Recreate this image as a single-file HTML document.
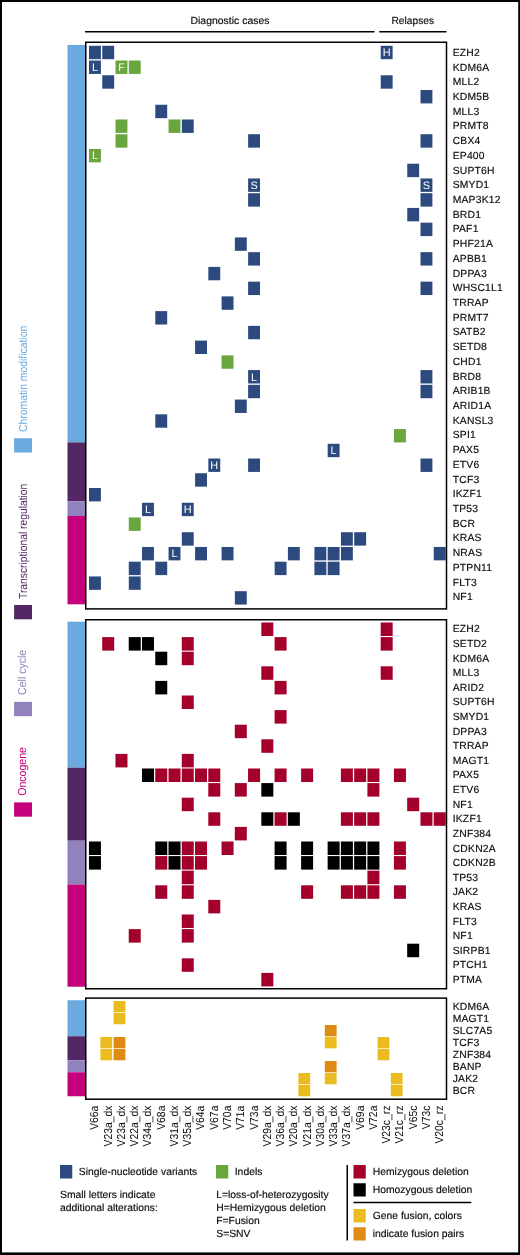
<!DOCTYPE html>
<html><head><meta charset="utf-8"><title>Mutation landscape</title>
<style>
html,body{margin:0;padding:0;background:#fff;}
svg{display:block;will-change:transform;text-rendering:geometricPrecision;font-family:"Liberation Sans",Arial,Helvetica,sans-serif;}
</style></head>
<body>
<svg width="520" height="1255" viewBox="0 0 520 1255" font-size="10.35" stroke-width="0.15">
<rect x="0" y="0" width="520" height="1255" fill="#fff"/>
<rect x="67.50" y="44.94" width="18.00" height="397.44" fill="#6aaade"/>
<rect x="67.50" y="442.38" width="18.00" height="58.88" fill="#532664"/>
<rect x="67.50" y="501.26" width="18.00" height="14.72" fill="#9181bc"/>
<rect x="67.50" y="515.98" width="18.00" height="88.32" fill="#c4007a"/>
<rect x="67.50" y="621.70" width="18.00" height="146.00" fill="#6aaade"/>
<rect x="67.50" y="767.70" width="18.00" height="73.00" fill="#532664"/>
<rect x="67.50" y="840.70" width="18.00" height="43.80" fill="#9181bc"/>
<rect x="67.50" y="884.50" width="18.00" height="102.20" fill="#c4007a"/>
<rect x="67.50" y="1000.25" width="18.00" height="36.00" fill="#6aaade"/>
<rect x="67.50" y="1036.25" width="18.00" height="24.00" fill="#532664"/>
<rect x="67.50" y="1060.25" width="18.00" height="12.00" fill="#9181bc"/>
<rect x="67.50" y="1072.25" width="18.00" height="24.00" fill="#c4007a"/>
<rect x="89.00" y="45.80" width="11.90" height="13.40" fill="#2c4a7e"/>
<rect x="102.26" y="45.80" width="11.90" height="13.40" fill="#2c4a7e"/>
<rect x="380.72" y="45.80" width="11.90" height="13.40" fill="#2c4a7e"/>
<text x="386.67" y="56.25" fill="#fff" stroke="none" text-anchor="middle" font-size="10.9">H</text>
<rect x="89.00" y="60.54" width="11.90" height="13.40" fill="#2c4a7e"/>
<text x="94.95" y="70.99" fill="#fff" stroke="none" text-anchor="middle" font-size="10.9">L</text>
<rect x="115.52" y="60.54" width="11.90" height="13.40" fill="#69a63e"/>
<text x="121.47" y="70.99" fill="#fff" stroke="none" text-anchor="middle" font-size="10.9">F</text>
<rect x="128.78" y="60.54" width="11.90" height="13.40" fill="#69a63e"/>
<rect x="102.26" y="75.28" width="11.90" height="13.40" fill="#2c4a7e"/>
<rect x="380.72" y="75.28" width="11.90" height="13.40" fill="#2c4a7e"/>
<rect x="420.50" y="90.02" width="11.90" height="13.40" fill="#2c4a7e"/>
<rect x="155.30" y="104.76" width="11.90" height="13.40" fill="#2c4a7e"/>
<rect x="115.52" y="119.50" width="11.90" height="13.40" fill="#69a63e"/>
<rect x="168.56" y="119.50" width="11.90" height="13.40" fill="#69a63e"/>
<rect x="181.82" y="119.50" width="11.90" height="13.40" fill="#2c4a7e"/>
<rect x="115.52" y="134.24" width="11.90" height="13.40" fill="#69a63e"/>
<rect x="248.12" y="134.24" width="11.90" height="13.40" fill="#2c4a7e"/>
<rect x="420.50" y="134.24" width="11.90" height="13.40" fill="#2c4a7e"/>
<rect x="89.00" y="148.98" width="11.90" height="13.40" fill="#69a63e"/>
<text x="94.95" y="159.43" fill="#fff" stroke="none" text-anchor="middle" font-size="10.9">L</text>
<rect x="407.24" y="163.72" width="11.90" height="13.40" fill="#2c4a7e"/>
<rect x="248.12" y="178.46" width="11.90" height="13.40" fill="#2c4a7e"/>
<text x="254.07" y="188.91" fill="#fff" stroke="none" text-anchor="middle" font-size="10.9">S</text>
<rect x="420.50" y="178.46" width="11.90" height="13.40" fill="#2c4a7e"/>
<text x="426.45" y="188.91" fill="#fff" stroke="none" text-anchor="middle" font-size="10.9">S</text>
<rect x="248.12" y="193.20" width="11.90" height="13.40" fill="#2c4a7e"/>
<rect x="420.50" y="193.20" width="11.90" height="13.40" fill="#2c4a7e"/>
<rect x="407.24" y="207.94" width="11.90" height="13.40" fill="#2c4a7e"/>
<rect x="420.50" y="222.68" width="11.90" height="13.40" fill="#2c4a7e"/>
<rect x="234.86" y="237.42" width="11.90" height="13.40" fill="#2c4a7e"/>
<rect x="248.12" y="252.16" width="11.90" height="13.40" fill="#2c4a7e"/>
<rect x="420.50" y="252.16" width="11.90" height="13.40" fill="#2c4a7e"/>
<rect x="208.34" y="266.90" width="11.90" height="13.40" fill="#2c4a7e"/>
<rect x="248.12" y="281.64" width="11.90" height="13.40" fill="#2c4a7e"/>
<rect x="420.50" y="281.64" width="11.90" height="13.40" fill="#2c4a7e"/>
<rect x="221.60" y="296.38" width="11.90" height="13.40" fill="#2c4a7e"/>
<rect x="155.30" y="311.12" width="11.90" height="13.40" fill="#2c4a7e"/>
<rect x="248.12" y="325.86" width="11.90" height="13.40" fill="#2c4a7e"/>
<rect x="195.08" y="340.60" width="11.90" height="13.40" fill="#2c4a7e"/>
<rect x="221.60" y="355.34" width="11.90" height="13.40" fill="#69a63e"/>
<rect x="248.12" y="370.08" width="11.90" height="13.40" fill="#2c4a7e"/>
<text x="254.07" y="380.53" fill="#fff" stroke="none" text-anchor="middle" font-size="10.9">L</text>
<rect x="420.50" y="370.08" width="11.90" height="13.40" fill="#2c4a7e"/>
<rect x="248.12" y="384.82" width="11.90" height="13.40" fill="#2c4a7e"/>
<rect x="420.50" y="384.82" width="11.90" height="13.40" fill="#2c4a7e"/>
<rect x="234.86" y="399.56" width="11.90" height="13.40" fill="#2c4a7e"/>
<rect x="155.30" y="414.30" width="11.90" height="13.40" fill="#2c4a7e"/>
<rect x="393.98" y="429.04" width="11.90" height="13.40" fill="#69a63e"/>
<rect x="327.68" y="443.78" width="11.90" height="13.40" fill="#2c4a7e"/>
<text x="333.63" y="454.23" fill="#fff" stroke="none" text-anchor="middle" font-size="10.9">L</text>
<rect x="208.34" y="458.52" width="11.90" height="13.40" fill="#2c4a7e"/>
<text x="214.29" y="468.97" fill="#fff" stroke="none" text-anchor="middle" font-size="10.9">H</text>
<rect x="248.12" y="458.52" width="11.90" height="13.40" fill="#2c4a7e"/>
<rect x="420.50" y="458.52" width="11.90" height="13.40" fill="#2c4a7e"/>
<rect x="195.08" y="473.26" width="11.90" height="13.40" fill="#2c4a7e"/>
<rect x="89.00" y="488.00" width="11.90" height="13.40" fill="#2c4a7e"/>
<rect x="142.04" y="502.74" width="11.90" height="13.40" fill="#2c4a7e"/>
<text x="147.99" y="513.19" fill="#fff" stroke="none" text-anchor="middle" font-size="10.9">L</text>
<rect x="181.82" y="502.74" width="11.90" height="13.40" fill="#2c4a7e"/>
<text x="187.77" y="513.19" fill="#fff" stroke="none" text-anchor="middle" font-size="10.9">H</text>
<rect x="128.78" y="517.48" width="11.90" height="13.40" fill="#69a63e"/>
<rect x="181.82" y="532.22" width="11.90" height="13.40" fill="#2c4a7e"/>
<rect x="340.94" y="532.22" width="11.90" height="13.40" fill="#2c4a7e"/>
<rect x="354.20" y="532.22" width="11.90" height="13.40" fill="#2c4a7e"/>
<rect x="142.04" y="546.96" width="11.90" height="13.40" fill="#2c4a7e"/>
<rect x="168.56" y="546.96" width="11.90" height="13.40" fill="#2c4a7e"/>
<text x="174.51" y="557.41" fill="#fff" stroke="none" text-anchor="middle" font-size="10.9">L</text>
<rect x="195.08" y="546.96" width="11.90" height="13.40" fill="#2c4a7e"/>
<rect x="221.60" y="546.96" width="11.90" height="13.40" fill="#2c4a7e"/>
<rect x="287.90" y="546.96" width="11.90" height="13.40" fill="#2c4a7e"/>
<rect x="314.42" y="546.96" width="11.90" height="13.40" fill="#2c4a7e"/>
<rect x="327.68" y="546.96" width="11.90" height="13.40" fill="#2c4a7e"/>
<rect x="340.94" y="546.96" width="11.90" height="13.40" fill="#2c4a7e"/>
<rect x="433.76" y="546.96" width="11.90" height="13.40" fill="#2c4a7e"/>
<rect x="128.78" y="561.70" width="11.90" height="13.40" fill="#2c4a7e"/>
<rect x="155.30" y="561.70" width="11.90" height="13.40" fill="#2c4a7e"/>
<rect x="274.64" y="561.70" width="11.90" height="13.40" fill="#2c4a7e"/>
<rect x="314.42" y="561.70" width="11.90" height="13.40" fill="#2c4a7e"/>
<rect x="327.68" y="561.70" width="11.90" height="13.40" fill="#2c4a7e"/>
<rect x="89.00" y="576.44" width="11.90" height="13.40" fill="#2c4a7e"/>
<rect x="128.78" y="576.44" width="11.90" height="13.40" fill="#2c4a7e"/>
<rect x="234.86" y="591.18" width="11.90" height="13.40" fill="#2c4a7e"/>
<text x="452.70" y="55.87" fill="#0a0a0a" stroke="#0a0a0a" text-anchor="start" letter-spacing="0.2">EZH2</text>
<text x="452.70" y="70.59" fill="#0a0a0a" stroke="#0a0a0a" text-anchor="start" letter-spacing="0.2">KDM6A</text>
<text x="452.70" y="85.30" fill="#0a0a0a" stroke="#0a0a0a" text-anchor="start" letter-spacing="0.2">MLL2</text>
<text x="452.70" y="100.02" fill="#0a0a0a" stroke="#0a0a0a" text-anchor="start" letter-spacing="0.2">KDM5B</text>
<text x="452.70" y="114.73" fill="#0a0a0a" stroke="#0a0a0a" text-anchor="start" letter-spacing="0.2">MLL3</text>
<text x="452.70" y="129.45" fill="#0a0a0a" stroke="#0a0a0a" text-anchor="start" letter-spacing="0.2">PRMT8</text>
<text x="452.70" y="144.16" fill="#0a0a0a" stroke="#0a0a0a" text-anchor="start" letter-spacing="0.2">CBX4</text>
<text x="452.70" y="158.88" fill="#0a0a0a" stroke="#0a0a0a" text-anchor="start" letter-spacing="0.2">EP400</text>
<text x="452.70" y="173.59" fill="#0a0a0a" stroke="#0a0a0a" text-anchor="start" letter-spacing="0.2">SUPT6H</text>
<text x="452.70" y="188.31" fill="#0a0a0a" stroke="#0a0a0a" text-anchor="start" letter-spacing="0.2">SMYD1</text>
<text x="452.70" y="203.03" fill="#0a0a0a" stroke="#0a0a0a" text-anchor="start" letter-spacing="0.2">MAP3K12</text>
<text x="452.70" y="217.74" fill="#0a0a0a" stroke="#0a0a0a" text-anchor="start" letter-spacing="0.2">BRD1</text>
<text x="452.70" y="232.46" fill="#0a0a0a" stroke="#0a0a0a" text-anchor="start" letter-spacing="0.2">PAF1</text>
<text x="452.70" y="247.17" fill="#0a0a0a" stroke="#0a0a0a" text-anchor="start" letter-spacing="0.2">PHF21A</text>
<text x="452.70" y="261.89" fill="#0a0a0a" stroke="#0a0a0a" text-anchor="start" letter-spacing="0.2">APBB1</text>
<text x="452.70" y="276.60" fill="#0a0a0a" stroke="#0a0a0a" text-anchor="start" letter-spacing="0.2">DPPA3</text>
<text x="452.70" y="291.32" fill="#0a0a0a" stroke="#0a0a0a" text-anchor="start" letter-spacing="0.2">WHSC1L1</text>
<text x="452.70" y="306.03" fill="#0a0a0a" stroke="#0a0a0a" text-anchor="start" letter-spacing="0.2">TRRAP</text>
<text x="452.70" y="320.75" fill="#0a0a0a" stroke="#0a0a0a" text-anchor="start" letter-spacing="0.2">PRMT7</text>
<text x="452.70" y="335.46" fill="#0a0a0a" stroke="#0a0a0a" text-anchor="start" letter-spacing="0.2">SATB2</text>
<text x="452.70" y="350.18" fill="#0a0a0a" stroke="#0a0a0a" text-anchor="start" letter-spacing="0.2">SETD8</text>
<text x="452.70" y="364.90" fill="#0a0a0a" stroke="#0a0a0a" text-anchor="start" letter-spacing="0.2">CHD1</text>
<text x="452.70" y="379.61" fill="#0a0a0a" stroke="#0a0a0a" text-anchor="start" letter-spacing="0.2">BRD8</text>
<text x="452.70" y="394.33" fill="#0a0a0a" stroke="#0a0a0a" text-anchor="start" letter-spacing="0.2">ARIB1B</text>
<text x="452.70" y="409.04" fill="#0a0a0a" stroke="#0a0a0a" text-anchor="start" letter-spacing="0.2">ARID1A</text>
<text x="452.70" y="423.76" fill="#0a0a0a" stroke="#0a0a0a" text-anchor="start" letter-spacing="0.2">KANSL3</text>
<text x="452.70" y="438.47" fill="#0a0a0a" stroke="#0a0a0a" text-anchor="start" letter-spacing="0.2">SPI1</text>
<text x="452.70" y="453.19" fill="#0a0a0a" stroke="#0a0a0a" text-anchor="start" letter-spacing="0.2">PAX5</text>
<text x="452.70" y="467.90" fill="#0a0a0a" stroke="#0a0a0a" text-anchor="start" letter-spacing="0.2">ETV6</text>
<text x="452.70" y="482.62" fill="#0a0a0a" stroke="#0a0a0a" text-anchor="start" letter-spacing="0.2">TCF3</text>
<text x="452.70" y="497.34" fill="#0a0a0a" stroke="#0a0a0a" text-anchor="start" letter-spacing="0.2">IKZF1</text>
<text x="452.70" y="512.05" fill="#0a0a0a" stroke="#0a0a0a" text-anchor="start" letter-spacing="0.2">TP53</text>
<text x="452.70" y="526.77" fill="#0a0a0a" stroke="#0a0a0a" text-anchor="start" letter-spacing="0.2">BCR</text>
<text x="452.70" y="541.48" fill="#0a0a0a" stroke="#0a0a0a" text-anchor="start" letter-spacing="0.2">KRAS</text>
<text x="452.70" y="556.20" fill="#0a0a0a" stroke="#0a0a0a" text-anchor="start" letter-spacing="0.2">NRAS</text>
<text x="452.70" y="570.91" fill="#0a0a0a" stroke="#0a0a0a" text-anchor="start" letter-spacing="0.2">PTPN11</text>
<text x="452.70" y="585.63" fill="#0a0a0a" stroke="#0a0a0a" text-anchor="start" letter-spacing="0.2">FLT3</text>
<text x="452.70" y="600.34" fill="#0a0a0a" stroke="#0a0a0a" text-anchor="start" letter-spacing="0.2">NF1</text>
<rect x="261.33" y="622.50" width="12.00" height="13.50" fill="#a3002c"/>
<rect x="380.67" y="622.50" width="12.00" height="13.50" fill="#a3002c"/>
<rect x="102.21" y="637.10" width="12.00" height="13.50" fill="#a3002c"/>
<rect x="128.73" y="637.10" width="12.00" height="13.50" fill="#000000"/>
<rect x="141.99" y="637.10" width="12.00" height="13.50" fill="#000000"/>
<rect x="181.77" y="637.10" width="12.00" height="13.50" fill="#a3002c"/>
<rect x="274.59" y="637.10" width="12.00" height="13.50" fill="#a3002c"/>
<rect x="380.67" y="637.10" width="12.00" height="13.50" fill="#a3002c"/>
<rect x="155.25" y="651.70" width="12.00" height="13.50" fill="#000000"/>
<rect x="181.77" y="651.70" width="12.00" height="13.50" fill="#a3002c"/>
<rect x="261.33" y="666.30" width="12.00" height="13.50" fill="#a3002c"/>
<rect x="380.67" y="666.30" width="12.00" height="13.50" fill="#a3002c"/>
<rect x="155.25" y="680.90" width="12.00" height="13.50" fill="#000000"/>
<rect x="274.59" y="680.90" width="12.00" height="13.50" fill="#a3002c"/>
<rect x="181.77" y="695.50" width="12.00" height="13.50" fill="#a3002c"/>
<rect x="274.59" y="710.10" width="12.00" height="13.50" fill="#a3002c"/>
<rect x="234.81" y="724.70" width="12.00" height="13.50" fill="#a3002c"/>
<rect x="261.33" y="739.30" width="12.00" height="13.50" fill="#a3002c"/>
<rect x="115.47" y="753.90" width="12.00" height="13.50" fill="#a3002c"/>
<rect x="181.77" y="753.90" width="12.00" height="13.50" fill="#a3002c"/>
<rect x="141.99" y="768.50" width="12.00" height="13.50" fill="#000000"/>
<rect x="155.25" y="768.50" width="12.00" height="13.50" fill="#a3002c"/>
<rect x="168.51" y="768.50" width="12.00" height="13.50" fill="#a3002c"/>
<rect x="181.77" y="768.50" width="12.00" height="13.50" fill="#a3002c"/>
<rect x="195.03" y="768.50" width="12.00" height="13.50" fill="#a3002c"/>
<rect x="208.29" y="768.50" width="12.00" height="13.50" fill="#a3002c"/>
<rect x="248.07" y="768.50" width="12.00" height="13.50" fill="#a3002c"/>
<rect x="274.59" y="768.50" width="12.00" height="13.50" fill="#a3002c"/>
<rect x="301.11" y="768.50" width="12.00" height="13.50" fill="#a3002c"/>
<rect x="340.89" y="768.50" width="12.00" height="13.50" fill="#a3002c"/>
<rect x="354.15" y="768.50" width="12.00" height="13.50" fill="#a3002c"/>
<rect x="367.41" y="768.50" width="12.00" height="13.50" fill="#a3002c"/>
<rect x="393.93" y="768.50" width="12.00" height="13.50" fill="#a3002c"/>
<rect x="208.29" y="783.10" width="12.00" height="13.50" fill="#a3002c"/>
<rect x="234.81" y="783.10" width="12.00" height="13.50" fill="#a3002c"/>
<rect x="261.33" y="783.10" width="12.00" height="13.50" fill="#000000"/>
<rect x="367.41" y="783.10" width="12.00" height="13.50" fill="#a3002c"/>
<rect x="181.77" y="797.70" width="12.00" height="13.50" fill="#a3002c"/>
<rect x="407.19" y="797.70" width="12.00" height="13.50" fill="#a3002c"/>
<rect x="208.29" y="812.30" width="12.00" height="13.50" fill="#a3002c"/>
<rect x="261.33" y="812.30" width="12.00" height="13.50" fill="#000000"/>
<rect x="274.59" y="812.30" width="12.00" height="13.50" fill="#a3002c"/>
<rect x="287.85" y="812.30" width="12.00" height="13.50" fill="#000000"/>
<rect x="340.89" y="812.30" width="12.00" height="13.50" fill="#a3002c"/>
<rect x="354.15" y="812.30" width="12.00" height="13.50" fill="#a3002c"/>
<rect x="367.41" y="812.30" width="12.00" height="13.50" fill="#a3002c"/>
<rect x="420.45" y="812.30" width="12.00" height="13.50" fill="#a3002c"/>
<rect x="433.71" y="812.30" width="12.00" height="13.50" fill="#a3002c"/>
<rect x="234.81" y="826.90" width="12.00" height="13.50" fill="#a3002c"/>
<rect x="88.95" y="841.50" width="12.00" height="13.50" fill="#000000"/>
<rect x="155.25" y="841.50" width="12.00" height="13.50" fill="#000000"/>
<rect x="168.51" y="841.50" width="12.00" height="13.50" fill="#000000"/>
<rect x="181.77" y="841.50" width="12.00" height="13.50" fill="#a3002c"/>
<rect x="195.03" y="841.50" width="12.00" height="13.50" fill="#a3002c"/>
<rect x="221.55" y="841.50" width="12.00" height="13.50" fill="#a3002c"/>
<rect x="274.59" y="841.50" width="12.00" height="13.50" fill="#000000"/>
<rect x="301.11" y="841.50" width="12.00" height="13.50" fill="#000000"/>
<rect x="327.63" y="841.50" width="12.00" height="13.50" fill="#000000"/>
<rect x="340.89" y="841.50" width="12.00" height="13.50" fill="#000000"/>
<rect x="354.15" y="841.50" width="12.00" height="13.50" fill="#000000"/>
<rect x="367.41" y="841.50" width="12.00" height="13.50" fill="#000000"/>
<rect x="393.93" y="841.50" width="12.00" height="13.50" fill="#a3002c"/>
<rect x="88.95" y="856.10" width="12.00" height="13.50" fill="#000000"/>
<rect x="155.25" y="856.10" width="12.00" height="13.50" fill="#a3002c"/>
<rect x="168.51" y="856.10" width="12.00" height="13.50" fill="#000000"/>
<rect x="181.77" y="856.10" width="12.00" height="13.50" fill="#a3002c"/>
<rect x="195.03" y="856.10" width="12.00" height="13.50" fill="#a3002c"/>
<rect x="274.59" y="856.10" width="12.00" height="13.50" fill="#000000"/>
<rect x="301.11" y="856.10" width="12.00" height="13.50" fill="#000000"/>
<rect x="327.63" y="856.10" width="12.00" height="13.50" fill="#000000"/>
<rect x="340.89" y="856.10" width="12.00" height="13.50" fill="#000000"/>
<rect x="354.15" y="856.10" width="12.00" height="13.50" fill="#000000"/>
<rect x="367.41" y="856.10" width="12.00" height="13.50" fill="#000000"/>
<rect x="393.93" y="856.10" width="12.00" height="13.50" fill="#a3002c"/>
<rect x="181.77" y="870.70" width="12.00" height="13.50" fill="#a3002c"/>
<rect x="367.41" y="870.70" width="12.00" height="13.50" fill="#a3002c"/>
<rect x="155.25" y="885.30" width="12.00" height="13.50" fill="#a3002c"/>
<rect x="181.77" y="885.30" width="12.00" height="13.50" fill="#a3002c"/>
<rect x="301.11" y="885.30" width="12.00" height="13.50" fill="#a3002c"/>
<rect x="340.89" y="885.30" width="12.00" height="13.50" fill="#a3002c"/>
<rect x="354.15" y="885.30" width="12.00" height="13.50" fill="#a3002c"/>
<rect x="367.41" y="885.30" width="12.00" height="13.50" fill="#a3002c"/>
<rect x="393.93" y="885.30" width="12.00" height="13.50" fill="#a3002c"/>
<rect x="208.29" y="899.90" width="12.00" height="13.50" fill="#a3002c"/>
<rect x="181.77" y="914.50" width="12.00" height="13.50" fill="#a3002c"/>
<rect x="128.73" y="929.10" width="12.00" height="13.50" fill="#a3002c"/>
<rect x="181.77" y="929.10" width="12.00" height="13.50" fill="#a3002c"/>
<rect x="407.19" y="943.70" width="12.00" height="13.50" fill="#000000"/>
<rect x="181.77" y="958.30" width="12.00" height="13.50" fill="#a3002c"/>
<rect x="261.33" y="972.90" width="12.00" height="13.50" fill="#a3002c"/>
<text x="452.70" y="632.30" fill="#0a0a0a" stroke="#0a0a0a" text-anchor="start" letter-spacing="0.2">EZH2</text>
<text x="452.70" y="646.91" fill="#0a0a0a" stroke="#0a0a0a" text-anchor="start" letter-spacing="0.2">SETD2</text>
<text x="452.70" y="661.53" fill="#0a0a0a" stroke="#0a0a0a" text-anchor="start" letter-spacing="0.2">KDM6A</text>
<text x="452.70" y="676.14" fill="#0a0a0a" stroke="#0a0a0a" text-anchor="start" letter-spacing="0.2">MLL3</text>
<text x="452.70" y="690.76" fill="#0a0a0a" stroke="#0a0a0a" text-anchor="start" letter-spacing="0.2">ARID2</text>
<text x="452.70" y="705.38" fill="#0a0a0a" stroke="#0a0a0a" text-anchor="start" letter-spacing="0.2">SUPT6H</text>
<text x="452.70" y="719.99" fill="#0a0a0a" stroke="#0a0a0a" text-anchor="start" letter-spacing="0.2">SMYD1</text>
<text x="452.70" y="734.61" fill="#0a0a0a" stroke="#0a0a0a" text-anchor="start" letter-spacing="0.2">DPPA3</text>
<text x="452.70" y="749.22" fill="#0a0a0a" stroke="#0a0a0a" text-anchor="start" letter-spacing="0.2">TRRAP</text>
<text x="452.70" y="763.83" fill="#0a0a0a" stroke="#0a0a0a" text-anchor="start" letter-spacing="0.2">MAGT1</text>
<text x="452.70" y="778.45" fill="#0a0a0a" stroke="#0a0a0a" text-anchor="start" letter-spacing="0.2">PAX5</text>
<text x="452.70" y="793.06" fill="#0a0a0a" stroke="#0a0a0a" text-anchor="start" letter-spacing="0.2">ETV6</text>
<text x="452.70" y="807.68" fill="#0a0a0a" stroke="#0a0a0a" text-anchor="start" letter-spacing="0.2">NF1</text>
<text x="452.70" y="822.29" fill="#0a0a0a" stroke="#0a0a0a" text-anchor="start" letter-spacing="0.2">IKZF1</text>
<text x="452.70" y="836.91" fill="#0a0a0a" stroke="#0a0a0a" text-anchor="start" letter-spacing="0.2">ZNF384</text>
<text x="452.70" y="851.52" fill="#0a0a0a" stroke="#0a0a0a" text-anchor="start" letter-spacing="0.2">CDKN2A</text>
<text x="452.70" y="866.14" fill="#0a0a0a" stroke="#0a0a0a" text-anchor="start" letter-spacing="0.2">CDKN2B</text>
<text x="452.70" y="880.75" fill="#0a0a0a" stroke="#0a0a0a" text-anchor="start" letter-spacing="0.2">TP53</text>
<text x="452.70" y="895.37" fill="#0a0a0a" stroke="#0a0a0a" text-anchor="start" letter-spacing="0.2">JAK2</text>
<text x="452.70" y="909.98" fill="#0a0a0a" stroke="#0a0a0a" text-anchor="start" letter-spacing="0.2">KRAS</text>
<text x="452.70" y="924.60" fill="#0a0a0a" stroke="#0a0a0a" text-anchor="start" letter-spacing="0.2">FLT3</text>
<text x="452.70" y="939.21" fill="#0a0a0a" stroke="#0a0a0a" text-anchor="start" letter-spacing="0.2">NF1</text>
<text x="452.70" y="953.83" fill="#0a0a0a" stroke="#0a0a0a" text-anchor="start" letter-spacing="0.2">SIRPB1</text>
<text x="452.70" y="968.44" fill="#0a0a0a" stroke="#0a0a0a" text-anchor="start" letter-spacing="0.2">PTCH1</text>
<text x="452.70" y="983.06" fill="#0a0a0a" stroke="#0a0a0a" text-anchor="start" letter-spacing="0.2">PTMA</text>
<rect x="113.60" y="1001.00" width="11.80" height="11.30" fill="#ebbc20"/>
<rect x="113.60" y="1013.00" width="11.80" height="11.30" fill="#ebbc20"/>
<rect x="324.80" y="1025.00" width="11.80" height="11.30" fill="#de8b14"/>
<rect x="100.40" y="1037.00" width="11.80" height="11.30" fill="#ebbc20"/>
<rect x="113.60" y="1037.00" width="11.80" height="11.30" fill="#de8b14"/>
<rect x="324.80" y="1037.00" width="11.80" height="11.30" fill="#ebbc20"/>
<rect x="377.60" y="1037.00" width="11.80" height="11.30" fill="#ebbc20"/>
<rect x="100.40" y="1049.00" width="11.80" height="11.30" fill="#ebbc20"/>
<rect x="113.60" y="1049.00" width="11.80" height="11.30" fill="#de8b14"/>
<rect x="377.60" y="1049.00" width="11.80" height="11.30" fill="#ebbc20"/>
<rect x="324.80" y="1061.00" width="11.80" height="11.30" fill="#de8b14"/>
<rect x="298.40" y="1073.00" width="11.80" height="11.30" fill="#ebbc20"/>
<rect x="324.80" y="1073.00" width="11.80" height="11.30" fill="#ebbc20"/>
<rect x="390.80" y="1073.00" width="11.80" height="11.30" fill="#ebbc20"/>
<rect x="298.40" y="1085.00" width="11.80" height="11.30" fill="#ebbc20"/>
<rect x="390.80" y="1085.00" width="11.80" height="11.30" fill="#ebbc20"/>
<text x="452.70" y="1009.75" fill="#0a0a0a" stroke="#0a0a0a" text-anchor="start" letter-spacing="0.2">KDM6A</text>
<text x="452.70" y="1021.77" fill="#0a0a0a" stroke="#0a0a0a" text-anchor="start" letter-spacing="0.2">MAGT1</text>
<text x="452.70" y="1033.79" fill="#0a0a0a" stroke="#0a0a0a" text-anchor="start" letter-spacing="0.2">SLC7A5</text>
<text x="452.70" y="1045.81" fill="#0a0a0a" stroke="#0a0a0a" text-anchor="start" letter-spacing="0.2">TCF3</text>
<text x="452.70" y="1057.83" fill="#0a0a0a" stroke="#0a0a0a" text-anchor="start" letter-spacing="0.2">ZNF384</text>
<text x="452.70" y="1069.85" fill="#0a0a0a" stroke="#0a0a0a" text-anchor="start" letter-spacing="0.2">BANP</text>
<text x="452.70" y="1081.87" fill="#0a0a0a" stroke="#0a0a0a" text-anchor="start" letter-spacing="0.2">JAK2</text>
<text x="452.70" y="1093.89" fill="#0a0a0a" stroke="#0a0a0a" text-anchor="start" letter-spacing="0.2">BCR</text>
<rect x="85.75" y="42.25" width="360.75" height="566.65" fill="none" stroke="#000" stroke-width="1.5"/>
<rect x="85.75" y="619.75" width="360.75" height="369.00" fill="none" stroke="#000" stroke-width="1.5"/>
<rect x="85.75" y="998.1" width="360.75" height="101.10" fill="none" stroke="#000" stroke-width="1.5"/>
<text x="190.50" y="23.75" fill="#0a0a0a" stroke="#0a0a0a" text-anchor="start" textLength="79" lengthAdjust="spacingAndGlyphs">Diagnostic cases</text>
<text x="391.50" y="23.75" fill="#0a0a0a" stroke="#0a0a0a" text-anchor="start" textLength="42.5" lengthAdjust="spacingAndGlyphs">Relapses</text>
<rect x="85.00" y="31.00" width="289.50" height="1.50" fill="#000"/>
<rect x="379.25" y="31.00" width="67.25" height="1.50" fill="#000"/>
<text x="98.40" y="1105.6" fill="#0a0a0a" font-size="11.6" text-anchor="end" textLength="24.2" lengthAdjust="spacingAndGlyphs" transform="rotate(-90 98.40 1105.6)">V66a</text>
<text x="111.66" y="1105.6" fill="#0a0a0a" font-size="11.6" text-anchor="end" textLength="40.9" lengthAdjust="spacingAndGlyphs" transform="rotate(-90 111.66 1105.6)">V23a_dx</text>
<text x="124.92" y="1105.6" fill="#0a0a0a" font-size="11.6" text-anchor="end" textLength="40.9" lengthAdjust="spacingAndGlyphs" transform="rotate(-90 124.92 1105.6)">V23a_dx</text>
<text x="138.18" y="1105.6" fill="#0a0a0a" font-size="11.6" text-anchor="end" textLength="40.9" lengthAdjust="spacingAndGlyphs" transform="rotate(-90 138.18 1105.6)">V22a_dx</text>
<text x="151.44" y="1105.6" fill="#0a0a0a" font-size="11.6" text-anchor="end" textLength="40.9" lengthAdjust="spacingAndGlyphs" transform="rotate(-90 151.44 1105.6)">V34a_dx</text>
<text x="164.70" y="1105.6" fill="#0a0a0a" font-size="11.6" text-anchor="end" textLength="24.2" lengthAdjust="spacingAndGlyphs" transform="rotate(-90 164.70 1105.6)">V68a</text>
<text x="177.96" y="1105.6" fill="#0a0a0a" font-size="11.6" text-anchor="end" textLength="40.9" lengthAdjust="spacingAndGlyphs" transform="rotate(-90 177.96 1105.6)">V31a_dx</text>
<text x="191.22" y="1105.6" fill="#0a0a0a" font-size="11.6" text-anchor="end" textLength="40.9" lengthAdjust="spacingAndGlyphs" transform="rotate(-90 191.22 1105.6)">V35a_dx</text>
<text x="204.48" y="1105.6" fill="#0a0a0a" font-size="11.6" text-anchor="end" textLength="24.2" lengthAdjust="spacingAndGlyphs" transform="rotate(-90 204.48 1105.6)">V64a</text>
<text x="217.74" y="1105.6" fill="#0a0a0a" font-size="11.6" text-anchor="end" textLength="24.2" lengthAdjust="spacingAndGlyphs" transform="rotate(-90 217.74 1105.6)">V67a</text>
<text x="231.00" y="1105.6" fill="#0a0a0a" font-size="11.6" text-anchor="end" textLength="24.2" lengthAdjust="spacingAndGlyphs" transform="rotate(-90 231.00 1105.6)">V70a</text>
<text x="244.26" y="1105.6" fill="#0a0a0a" font-size="11.6" text-anchor="end" textLength="24.2" lengthAdjust="spacingAndGlyphs" transform="rotate(-90 244.26 1105.6)">V71a</text>
<text x="257.52" y="1105.6" fill="#0a0a0a" font-size="11.6" text-anchor="end" textLength="24.2" lengthAdjust="spacingAndGlyphs" transform="rotate(-90 257.52 1105.6)">V73a</text>
<text x="270.78" y="1105.6" fill="#0a0a0a" font-size="11.6" text-anchor="end" textLength="40.9" lengthAdjust="spacingAndGlyphs" transform="rotate(-90 270.78 1105.6)">V29a_dx</text>
<text x="284.04" y="1105.6" fill="#0a0a0a" font-size="11.6" text-anchor="end" textLength="40.9" lengthAdjust="spacingAndGlyphs" transform="rotate(-90 284.04 1105.6)">V36a_dx</text>
<text x="297.30" y="1105.6" fill="#0a0a0a" font-size="11.6" text-anchor="end" textLength="40.9" lengthAdjust="spacingAndGlyphs" transform="rotate(-90 297.30 1105.6)">V20a_dx</text>
<text x="310.56" y="1105.6" fill="#0a0a0a" font-size="11.6" text-anchor="end" textLength="40.9" lengthAdjust="spacingAndGlyphs" transform="rotate(-90 310.56 1105.6)">V21a_dx</text>
<text x="323.82" y="1105.6" fill="#0a0a0a" font-size="11.6" text-anchor="end" textLength="40.9" lengthAdjust="spacingAndGlyphs" transform="rotate(-90 323.82 1105.6)">V30a_dx</text>
<text x="337.08" y="1105.6" fill="#0a0a0a" font-size="11.6" text-anchor="end" textLength="40.9" lengthAdjust="spacingAndGlyphs" transform="rotate(-90 337.08 1105.6)">V33a_dx</text>
<text x="350.34" y="1105.6" fill="#0a0a0a" font-size="11.6" text-anchor="end" textLength="40.9" lengthAdjust="spacingAndGlyphs" transform="rotate(-90 350.34 1105.6)">V37a_dx</text>
<text x="363.60" y="1105.6" fill="#0a0a0a" font-size="11.6" text-anchor="end" textLength="24.2" lengthAdjust="spacingAndGlyphs" transform="rotate(-90 363.60 1105.6)">V69a</text>
<text x="376.86" y="1105.6" fill="#0a0a0a" font-size="11.6" text-anchor="end" textLength="24.2" lengthAdjust="spacingAndGlyphs" transform="rotate(-90 376.86 1105.6)">V72a</text>
<text x="390.12" y="1105.6" fill="#0a0a0a" font-size="11.6" text-anchor="end" textLength="38.0" lengthAdjust="spacingAndGlyphs" transform="rotate(-90 390.12 1105.6)">V23c_rz</text>
<text x="403.38" y="1105.6" fill="#0a0a0a" font-size="11.6" text-anchor="end" textLength="38.0" lengthAdjust="spacingAndGlyphs" transform="rotate(-90 403.38 1105.6)">V21c_rz</text>
<text x="416.64" y="1105.6" fill="#0a0a0a" font-size="11.6" text-anchor="end" textLength="23.6" lengthAdjust="spacingAndGlyphs" transform="rotate(-90 416.64 1105.6)">V65c</text>
<text x="429.90" y="1105.6" fill="#0a0a0a" font-size="11.6" text-anchor="end" textLength="23.6" lengthAdjust="spacingAndGlyphs" transform="rotate(-90 429.90 1105.6)">V73c</text>
<text x="443.16" y="1105.6" fill="#0a0a0a" font-size="11.6" text-anchor="end" textLength="38.0" lengthAdjust="spacingAndGlyphs" transform="rotate(-90 443.16 1105.6)">V20c_rz</text>
<text x="26.5" y="432" fill="#6aaade" font-size="11.6" textLength="106.3" lengthAdjust="spacingAndGlyphs" transform="rotate(-90 26.5 432)">Chromatin modification</text>
<rect x="14.10" y="438.20" width="17.90" height="14.30" fill="#6aaade"/>
<text x="26.5" y="599" fill="#532664" font-size="11.6" textLength="115.3" lengthAdjust="spacingAndGlyphs" transform="rotate(-90 26.5 599)">Transcriptional regulation</text>
<rect x="14.10" y="605.00" width="17.90" height="14.30" fill="#532664"/>
<text x="26.5" y="694.9" fill="#9181bc" font-size="11.6" textLength="45" lengthAdjust="spacingAndGlyphs" transform="rotate(-90 26.5 694.9)">Cell cycle</text>
<rect x="14.10" y="701.90" width="17.90" height="14.30" fill="#9181bc"/>
<text x="26.5" y="795.7" fill="#c4007a" font-size="11.6" textLength="48.6" lengthAdjust="spacingAndGlyphs" transform="rotate(-90 26.5 795.7)">Oncogene</text>
<rect x="14.10" y="802.40" width="17.90" height="14.30" fill="#c4007a"/>
<rect x="60.00" y="1165.00" width="12.25" height="13.50" fill="#2c4a7e"/>
<text x="78.75" y="1175.00" fill="#0a0a0a" stroke="#0a0a0a" text-anchor="start">Single-nucleotide variants</text>
<rect x="216.00" y="1165.00" width="12.25" height="13.50" fill="#69a63e"/>
<text x="234.75" y="1175.00" fill="#0a0a0a" stroke="#0a0a0a" text-anchor="start">Indels</text>
<text x="60.00" y="1198.25" fill="#0a0a0a" stroke="#0a0a0a" text-anchor="start">Small letters indicate</text>
<text x="60.00" y="1211.25" fill="#0a0a0a" stroke="#0a0a0a" text-anchor="start">additional alterations:</text>
<text x="216.25" y="1198.25" fill="#0a0a0a" stroke="#0a0a0a" text-anchor="start">L=loss-of-heterozygosity</text>
<text x="216.25" y="1211.25" fill="#0a0a0a" stroke="#0a0a0a" text-anchor="start">H=Hemizygous deletion</text>
<text x="216.25" y="1224.25" fill="#0a0a0a" stroke="#0a0a0a" text-anchor="start">F=Fusion</text>
<text x="216.25" y="1237.25" fill="#0a0a0a" stroke="#0a0a0a" text-anchor="start">S=SNV</text>
<rect x="346.50" y="1165.00" width="1.50" height="75.50" fill="#000"/>
<rect x="353.50" y="1165.00" width="12.25" height="13.50" fill="#a3002c"/>
<text x="372.75" y="1175.00" fill="#0a0a0a" stroke="#0a0a0a" text-anchor="start">Hemizygous deletion</text>
<rect x="353.50" y="1183.25" width="12.25" height="13.25" fill="#000000"/>
<text x="372.75" y="1193.25" fill="#0a0a0a" stroke="#0a0a0a" text-anchor="start">Homozygous deletion</text>
<rect x="353.50" y="1201.75" width="117.75" height="1.50" fill="#000"/>
<rect x="353.50" y="1209.00" width="12.25" height="13.50" fill="#ebbc20"/>
<text x="372.75" y="1219.25" fill="#0a0a0a" stroke="#0a0a0a" text-anchor="start">Gene fusion, colors</text>
<rect x="353.50" y="1227.25" width="12.25" height="13.25" fill="#de8b14"/>
<text x="372.75" y="1237.25" fill="#0a0a0a" stroke="#0a0a0a" text-anchor="start">indicate fusion pairs</text>
<rect x="0.00" y="0.00" width="520.00" height="2.00" fill="#000"/>
<rect x="0.00" y="0.00" width="2.00" height="1255.00" fill="#000"/>
<rect x="518.20" y="0.00" width="1.80" height="1255.00" fill="#000"/>
<rect x="0.00" y="1252.40" width="520.00" height="2.60" fill="#000"/>
</svg>
</body></html>
